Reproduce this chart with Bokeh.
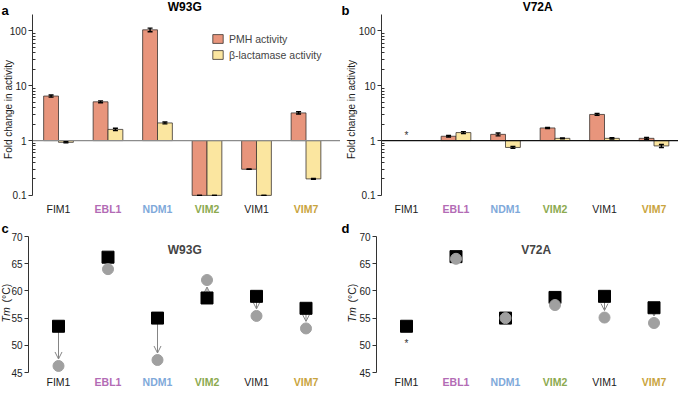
import numpy as np
from bokeh.plotting import figure
from bokeh.layouts import column, row
from bokeh.models import (Range1d, FixedTicker, NumeralTickFormatter, Label, Whisker,
                          ColumnDataSource, Arrow, OpenHead, Legend, LegendItem, TeeHead)
from bokeh.core.properties import value
from bokeh.embed import file_html
from bokeh.resources import INLINE

# ---------------- data ----------------
categories = ["FIM1", "EBL1", "NDM1", "VIM2", "VIM1", "VIM7"]
category_colors = ["#1a1a1a", "#B36BB5", "#7FA9DA", "#8CAA4F", "#1a1a1a", "#C9A43E"]
category_bold = [False, True, True, True, False, True]

nan = float("nan")
w93g_pmh = [6.5, 5.1, 105, 0.1, 0.3, 3.2]
w93g_pmh_err = [0.3, 0.2, 8, 0, 0, 0.15]
w93g_blac = [0.93, 1.6, 2.1, 0.1, 0.1, 0.2]
w93g_blac_err = [0.02, 0.08, 0.08, 0, 0, 0.004]

v72a_pmh = [nan, 1.2, 1.3, 1.7, 3.0, 1.1]
v72a_pmh_err = [nan, 0.04, 0.08, 0.04, 0.12, 0.04]
v72a_blac = [nan, 1.4, 0.75, 1.1, 1.1, 0.8]
v72a_blac_err = [nan, 0.06, 0.03, 0.02, 0.03, 0.05]

w93g_tm_wt = [53.5, 66.2, 55.0, 58.7, 59.0, 56.8]
w93g_tm_mut = [46.2, 64.0, 47.3, 62.0, 55.4, 53.1]
v72a_tm_wt = [53.5, 66.3, 55.0, 58.8, 59.0, 56.9]
v72a_tm_mut = [nan, 65.9, 55.0, 57.4, 55.1, 54.1]

log_ticks = [0.1, 1, 10, 100]
log_bounds = (0.1, 200)
tm_ticks = [45, 50, 55, 60, 65, 70]
tm_bounds = (45, 70)

# ---------------- style / layout ----------------
FONT = "Liberation Sans"
PMH_COLOR = "#E8957C"
BLAC_COLOR = "#FBE6A0"
BAR_LINE = "#3a3330"
AXIS_COLOR = "#333333"
GREY_PT = "#A0A0A0"
ARROW_COLOR = "#858585"
SPACING = 49.5          # px between category centres
TOP_H, BOT_H = 220, 168
DECADE_PX = 54.8        # px per decade in panels a/b
TOP_AXIS_TOP = 14       # px from figure top to axis top (panels a/b)
BOT_AXIS_TOP = 16       # px from figure top to 70 tick (panels c/d)
TM_PX = 5.44            # px per degree in panels c/d


def style_axis(ax):
    ax.axis_line_color = AXIS_COLOR
    ax.major_tick_line_color = AXIS_COLOR
    ax.minor_tick_line_color = AXIS_COLOR
    ax.major_tick_out = 4
    ax.major_tick_in = 0
    ax.minor_tick_in = 3
    ax.minor_tick_out = 0
    ax.major_label_text_font = FONT
    ax.major_label_text_font_size = "10px"
    ax.major_label_text_color = "#222222"
    ax.major_label_standoff = 2


def x_layout(width, cat0_px, axis_px):
    """x range so that category 0 sits cat0_px from the figure's left edge."""
    start = -cat0_px / SPACING
    end = (width - cat0_px) / SPACING
    axis_x = (axis_px - cat0_px) / SPACING
    return (start, end), axis_x


def base_fig(width, height, xr, yr, log=False):
    p = figure(width=width, height=height, x_range=Range1d(*xr), y_range=Range1d(*yr),
               y_axis_type="log" if log else "linear", output_backend="svg",
               toolbar_location=None, title=None,
               min_border_left=0, min_border_right=0, min_border_top=0, min_border_bottom=0)
    p.xaxis.visible = False
    p.xgrid.visible = False
    p.ygrid.visible = False
    p.outline_line_color = None
    p.background_fill_color = "white"
    p.border_fill_color = "white"
    style_axis(p.yaxis[0])
    return p


def add_categories(p, y, offset):
    for i, (c, col, b) in enumerate(zip(categories, category_colors, category_bold)):
        p.add_layout(Label(x=i, y=y, y_offset=offset, text=c,
                           text_align="center", text_baseline="middle",
                           text_color=col, text_font=FONT, text_font_size="10.5px",
                           text_font_style="bold" if b else "normal"))


def add_letter(p, letter, ytop, yoff):
    p.add_layout(Label(x=p.x_range.start, y=ytop, x_offset=1, y_offset=yoff, text=letter,
                       text_font=FONT, text_font_size="13px", text_font_style="bold",
                       text_align="left", text_baseline="middle", text_color="black"))


def bar_panel(pmh, pmh_err, blac, blac_err, width, cat0_px, axis_px, base_color,
              letter, title, title_x, ylab_dx, legend=False, star=False):
    xr, axis_x = x_layout(width, cat0_px, axis_px)
    top_val = log_bounds[1] * 10 ** (TOP_AXIS_TOP / DECADE_PX)
    bottom_val = log_bounds[1] * 10 ** (-(TOP_H - TOP_AXIS_TOP) / DECADE_PX)
    p = base_fig(width, TOP_H, xr, (bottom_val, top_val), log=True)
    minor = [m * 10.0 ** e for e in (-1, 0, 1, 2) for m in range(2, 10)
             if m * 10.0 ** e < log_bounds[1]]
    p.yaxis.ticker = FixedTicker(ticks=log_ticks, minor_ticks=minor)
    p.yaxis.formatter = NumeralTickFormatter(format="0.[0]")
    p.yaxis.bounds = log_bounds
    p.yaxis.fixed_location = axis_x

    x = np.arange(len(categories))
    src = ColumnDataSource(dict(xp=x - 0.15, xb=x + 0.15, pmh=pmh, blac=blac))
    r1 = p.vbar(x="xp", width=0.3, bottom=1, top="pmh", source=src,
                fill_color=PMH_COLOR, line_color=BAR_LINE, line_width=0.8)
    r2 = p.vbar(x="xb", width=0.3, bottom=1, top="blac", source=src,
                fill_color=BLAC_COLOR, line_color=BAR_LINE, line_width=0.8)

    for off, vals, errs in ((-0.15, pmh, pmh_err), (0.15, blac, blac_err)):
        v = np.array(vals, dtype=float)
        e = np.array(errs, dtype=float)
        m = np.isfinite(v)
        wsrc = ColumnDataSource(dict(base=(x + off)[m], lo=(v - e)[m], hi=(v + e)[m]))
        p.add_layout(Whisker(base="base", lower="lo", upper="hi", source=wsrc,
                             line_color="black", line_width=1.4, level="overlay",
                             upper_head=TeeHead(size=5, line_color="black", line_width=1.4),
                             lower_head=TeeHead(size=5, line_color="black", line_width=1.4)))

    # baseline at fold change 1, from the axis to the right edge
    p.segment(x0=[axis_x], y0=[1], x1=[xr[1]], y1=[1], line_color=base_color, line_width=1.2)

    if star:
        p.text(x=[0], y=[1], text=["*"], y_offset=-5, text_align="center",
               text_baseline="middle", text_font=value(FONT), text_font_size="10px",
               text_color="#333333")

    if legend:
        lg = Legend(items=[LegendItem(label="PMH activity", renderers=[r1]),
                           LegendItem(label="β-lactamase activity", renderers=[r2])],
                    location=(211, 159), padding=0, margin=0, spacing=3,
                    glyph_width=13, glyph_height=11, label_height=13, label_standoff=5,
                    label_text_font=FONT, label_text_font_size="10.5px",
                    border_line_color=None, background_fill_alpha=0)
        p.add_layout(lg)

    add_categories(p, log_bounds[0], -14)
    add_letter(p, letter, log_bounds[1], 4)
    p.add_layout(Label(x=title_x, y=log_bounds[1], y_offset=8, text=title,
                       text_font=FONT, text_font_size="12px", text_font_style="bold",
                       text_align="center", text_baseline="middle", text_color="black"))
    p.add_layout(Label(x=axis_x, x_offset=ylab_dx, y=TOP_H - 117 + 8, y_units="screen",
                       text="Fold change in activity", angle=90, angle_units="deg",
                       text_align="center", text_baseline="middle", text_font=FONT,
                       text_font_size="10px", text_color="#222222"))
    return p


def tm_panel(wt, mut, width, cat0_px, axis_px, letter, title, title_x, ylab_dx, star=False):
    xr, axis_x = x_layout(width, cat0_px, axis_px)
    top_val = tm_bounds[1] + BOT_AXIS_TOP / TM_PX
    bottom_val = top_val - BOT_H / TM_PX
    p = base_fig(width, BOT_H, xr, (bottom_val, top_val))
    p.yaxis.ticker = FixedTicker(ticks=tm_ticks, minor_ticks=[])
    p.yaxis.bounds = tm_bounds
    p.yaxis.fixed_location = axis_x

    x = np.arange(len(categories))
    wt_a = np.array(wt, dtype=float)
    mut_a = np.array(mut, dtype=float)
    gap = 7.0 / TM_PX
    for i in range(len(categories)):
        if np.isfinite(mut_a[i]) and abs(mut_a[i] - wt_a[i]) >= 2:
            d = np.sign(mut_a[i] - wt_a[i])
            p.add_layout(Arrow(x_start=x[i], y_start=wt_a[i], x_end=x[i],
                               y_end=mut_a[i] - d * gap, line_color=ARROW_COLOR,
                               line_width=1, level="underlay",
                               end=OpenHead(size=7, line_color=ARROW_COLOR, line_width=1)))

    p.scatter(x=x, y=wt_a, marker="square", size=12, fill_color="black", line_color="black")
    m = np.isfinite(mut_a)
    p.scatter(x=x[m], y=mut_a[m], marker="circle", size=11, fill_color=GREY_PT,
              line_color=GREY_PT)

    if star:
        p.text(x=[0], y=[wt_a[0]], text=["*"], y_offset=17, text_align="center",
               text_baseline="middle", text_font=value(FONT), text_font_size="10px",
               text_color="#333333")

    p.add_layout(Label(x=title_x, y=tm_bounds[1], y_offset=-13, text=title, text_font=FONT,
                       text_font_size="12px", text_font_style="bold", text_align="center",
                       text_baseline="middle"))
    add_letter(p, letter, tm_bounds[1], 8)
    p.add_layout(Label(x=axis_x, x_offset=ylab_dx, y=66, y_units="screen", text="Tm",
                       angle=90, angle_units="deg", text_align="left", text_baseline="middle",
                       text_font=FONT, text_font_size="10.5px", text_font_style="italic",
                       text_color="#222222"))
    p.add_layout(Label(x=axis_x, x_offset=ylab_dx, y=86, y_units="screen", text="(°C)",
                       angle=90, angle_units="deg", text_align="left", text_baseline="middle",
                       text_font=FONT, text_font_size="10.5px", text_color="#222222"))
    add_categories(p, tm_bounds[0], -9)
    return p


pa = bar_panel(w93g_pmh, w93g_pmh_err, w93g_blac, w93g_blac_err, 340, 58, 32,
               "#8c8c8c", "a", "W93G", 2.55, -24, legend=True)
pb = bar_panel(v72a_pmh, v72a_pmh_err, v72a_blac, v72a_blac_err, 338, 66, 41,
               "#111111", "b", "V72A", 2.65, -30, star=True)
pc = tm_panel(w93g_tm_wt, w93g_tm_mut, 340, 58, 28, "c", "W93G", 2.55, -23)
pd = tm_panel(v72a_tm_wt, v72a_tm_mut, 338, 66, 36, "d", "V72A", 2.62, -25, star=True)

layout = column(row(pa, pb), row(pc, pd))

open("out.html", "w").write(file_html(layout, INLINE))
